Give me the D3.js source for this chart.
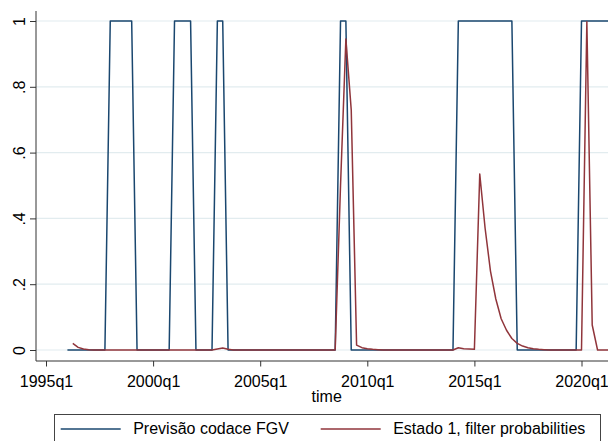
<!DOCTYPE html>
<html>
<head>
<meta charset="utf-8">
<script src="https://cdn.jsdelivr.net/npm/d3@7"></script>
<style>
body { margin: 0; background: #fff; }
svg { display: block; font-family: "Liberation Sans", Arial, sans-serif; }
</style>
</head>
<body>
<div id="chart"></div>
<script>
// quarters 1996q1 .. 2021q2
var quarters = [];
for (var yr = 1996; yr <= 2021; yr++) {
    for (var q = 1; q <= 4; q++) {
        if (yr == 2021 && q > 2) break;
        quarters.push(yr + "q" + q);
    }
}

// Previsão codace FGV (0/1), one row per year
var codace = [
    0,0,0,0,  0,0,0,0,  1,1,1,1,  1,0,0,0,  0,0,0,0,
    1,1,1,1,  0,0,0,0,  1,1,0,0,  0,0,0,0,  0,0,0,0,
    0,0,0,0,  0,0,0,0,  0,0,0,1,  1,0,0,0,  0,0,0,0,
    0,0,0,0,  0,0,0,0,  0,0,0,0,  0,1,1,1,  1,1,1,1,
    1,1,1,1,  0,0,0,0,  0,0,0,0,  0,0,0,0,  1,1,1,1,
    1,1
];

// Estado 1, filter probabilities
var filterProb = [
    null,0.02,0.008,0.003,  0.001,0,0,0,  0,0,0,0,  0,0,0,0,  0,0,0,0,
    0,0,0,0,  0,0,0,0,  0.003,0.006,0.002,0,  0,0,0,0,  0,0,0,0,
    0,0,0,0,  0,0,0,0,  0,0,0,0.5,  0.945,0.73,0.015,0.007,  0.004,0.002,0.001,0,
    0,0,0,0,  0,0,0,0,  0,0,0,0,  0,0.007,0.004,0.003,  0.002,0.535,0.37,0.24,
    0.155,0.095,0.06,0.035,  0.02,0.012,0.007,0.004,  0.002,0.001,0,0,  0,0,0,0,  0,0.998,0.076,0,
    0,0
];

var xTickLabels = ["1995q1", "2000q1", "2005q1", "2010q1", "2015q1", "2020q1"];
var yTicks = [0, 0.2, 0.4, 0.6, 0.8, 1];
var yTickLabels = ["0", ".2", ".4", ".6", ".8", "1"];
var seriesNames = ["Previsão codace FGV", "Estado 1, filter probabilities"];
var colors = ["#1a476f", "#90353b"];

// quarterly label -> quarters since 1995q1
function qIndex(s) {
    var p = s.split("q");
    return (+p[0] - 1995) * 4 + (+p[1] - 1);
}

var width = 608, height = 441;
var plot = {left: 36, top: 11, bottom: 361, right: 618};

var x = d3.scaleLinear().domain([0, 100]).range([46, 46 + 535.5]);
var y = d3.scaleLinear().domain([0, 1]).range([350, 21]);

var svg = d3.select("#chart").append("svg")
    .attr("width", width)
    .attr("height", height);

// gridlines
svg.append("g").selectAll("line")
    .data(yTicks)
    .enter().append("line")
    .attr("x1", plot.left).attr("x2", plot.right)
    .attr("y1", function(d) { return y(d); })
    .attr("y2", function(d) { return y(d); })
    .attr("stroke", "#e2ecef")
    .attr("stroke-width", 1.2);

// series
var data = quarters.map(function(qs, i) {
    return {t: qIndex(qs), a: codace[i], b: filterProb[i]};
});

var lineA = d3.line()
    .x(function(d) { return x(d.t); })
    .y(function(d) { return y(d.a); });

var lineB = d3.line()
    .defined(function(d) { return d.b != null; })
    .x(function(d) { return x(d.t); })
    .y(function(d) { return y(d.b); });

svg.append("path").datum(data)
    .attr("fill", "none")
    .attr("stroke", colors[0])
    .attr("stroke-width", 1.5)
    .attr("stroke-linejoin", "round")
    .attr("d", lineA);

svg.append("path").datum(data)
    .attr("fill", "none")
    .attr("stroke", colors[1])
    .attr("stroke-width", 1.5)
    .attr("stroke-linejoin", "round")
    .attr("d", lineB);

// x axis
var xAxis = svg.append("g")
    .attr("transform", "translate(0," + plot.bottom + ")")
    .call(d3.axisBottom(x)
        .tickValues(xTickLabels.map(qIndex))
        .tickFormat(function(d, i) { return xTickLabels[i]; })
        .tickSize(5.5)
        .tickSizeOuter(0));
xAxis.select(".domain").remove();
xAxis.selectAll("line").attr("stroke", "#333");
xAxis.selectAll("text")
    .attr("y", 25.6).attr("dy", null)
    .attr("fill", "#000")
    .style("font-size", "16px")
    .style("font-family", "'Liberation Sans', Arial, sans-serif");

// y axis
var yAxis = svg.append("g")
    .attr("transform", "translate(" + plot.left + ",0)")
    .call(d3.axisLeft(y)
        .tickValues(yTicks)
        .tickFormat(function(d, i) { return yTickLabels[i]; })
        .tickSize(6)
        .tickSizeOuter(0));
yAxis.select(".domain").remove();
yAxis.selectAll("line").attr("stroke", "#333");
yAxis.selectAll("text")
    .attr("x", null).attr("dy", null)
    .attr("transform", "translate(-11.5,0) rotate(-90)")
    .attr("text-anchor", "middle")
    .attr("fill", "#000")
    .style("font-size", "16px")
    .style("font-family", "'Liberation Sans', Arial, sans-serif");

// axis lines
svg.append("line")
    .attr("x1", plot.left).attr("x2", plot.left)
    .attr("y1", plot.top).attr("y2", plot.bottom)
    .attr("stroke", "#333").attr("stroke-width", 1);
svg.append("line")
    .attr("x1", plot.left).attr("x2", plot.right)
    .attr("y1", plot.bottom).attr("y2", plot.bottom)
    .attr("stroke", "#333").attr("stroke-width", 1);

// axis title
svg.append("text")
    .attr("x", 326.7).attr("y", 401.5)
    .attr("text-anchor", "middle")
    .style("font-size", "16px")
    .text("time");

// legend
var legend = svg.append("g");
legend.append("rect")
    .attr("x", 54.5).attr("y", 414.5)
    .attr("width", 546).attr("height", 40)
    .attr("fill", "#fff")
    .attr("stroke", "#444");

var keyX = [60.7, 320.7];
seriesNames.forEach(function(name, i) {
    legend.append("line")
        .attr("x1", keyX[i]).attr("x2", keyX[i] + 60)
        .attr("y1", 429).attr("y2", 429)
        .attr("stroke", colors[i])
        .attr("stroke-width", 1.5);
    legend.append("text")
        .attr("x", keyX[i] + 72.5).attr("y", 433.5)
        .style("font-size", "16px")
        .text(name);
});
</script>
</body>
</html>
